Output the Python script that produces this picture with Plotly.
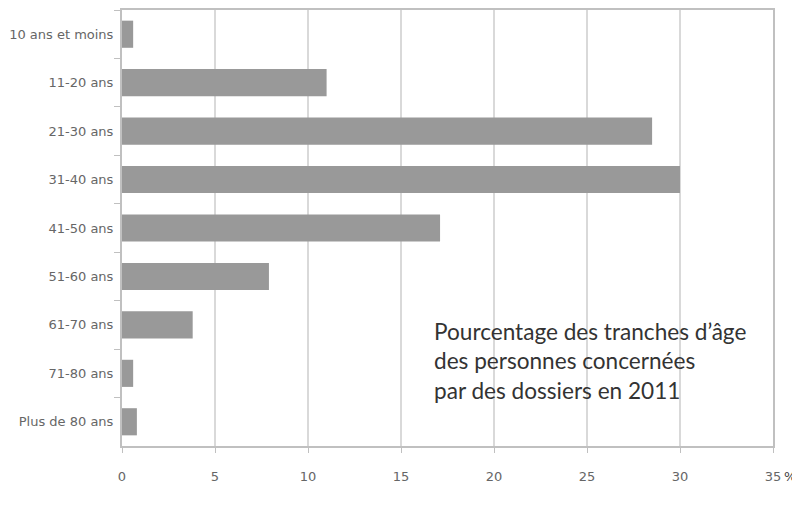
import plotly.graph_objects as go

# age groups and share of people (%) concerned by files in 2011
categories = ['10 ans et moins', '11-20 ans', '21-30 ans', '31-40 ans', '41-50 ans',
              '51-60 ans', '61-70 ans', '71-80 ans', 'Plus de 80 ans']
values = [0.6, 11.0, 28.5, 30.0, 17.1, 7.9, 3.8, 0.6, 0.8]
x_ticks = [0, 5, 10, 15, 20, 25, 30, 35]
caption = "Pourcentage des tranches d’âge<br>des personnes concernées<br>par des dossiers en 2011"

fig = go.Figure()
fig.add_trace(go.Bar(
    x=values,
    y=categories,
    orientation='h',
    marker=dict(color='#999999', line=dict(width=0)),
    showlegend=False
))

# page has an 8px body margin, so the figure is shifted by 8px
fig.update_layout(
    width=792,
    height=492,
    margin=dict(l=114, r=27, t=2, b=54),
    plot_bgcolor='white',
    paper_bgcolor='white',
    font=dict(family='DejaVu Sans', size=13, color='#666666'),
    xaxis=dict(
        range=[0, 35],
        tickvals=x_ticks,
        showgrid=True,
        gridcolor='#d9d9d9',
        gridwidth=1.5,
        zeroline=False,
        showline=True,
        linecolor='#c0c0c0',
        linewidth=2,
        mirror=True,
        ticks='outside',
        ticklen=5,
        tickcolor='#c0c0c0',
        ticklabelstandoff=12,
        automargin=False,
        tickfont=dict(family='DejaVu Sans', size=13, color='#666666'),
    ),
    yaxis=dict(
        autorange='reversed',
        showgrid=False,
        showline=True,
        linecolor='#c0c0c0',
        linewidth=2,
        mirror=True,
        ticks='outside',
        tickson='boundaries',
        ticklen=6,
        tickcolor='#c0c0c0',
        ticklabelstandoff=4,
        automargin=False,
        tickfont=dict(family='DejaVu Sans', size=13, color='#666666'),
    ),
    bargap=0.44,
)

# unit label after the last tick
fig.add_annotation(
    x=1.0138, y=-0.071, xref='paper', yref='paper',
    xanchor='left', yanchor='middle',
    text='%', showarrow=False,
    font=dict(family='DejaVu Sans', size=13, color='#444444'),
)

# caption inside the plot
fig.add_annotation(
    x=0.476, y=0.195, xref='paper', yref='paper',
    text=caption,
    showarrow=False, align='left', xanchor='left', yanchor='middle',
    font=dict(family='Lato', size=22.6, color='#333333'),
)

fig.write_html("out.html")
